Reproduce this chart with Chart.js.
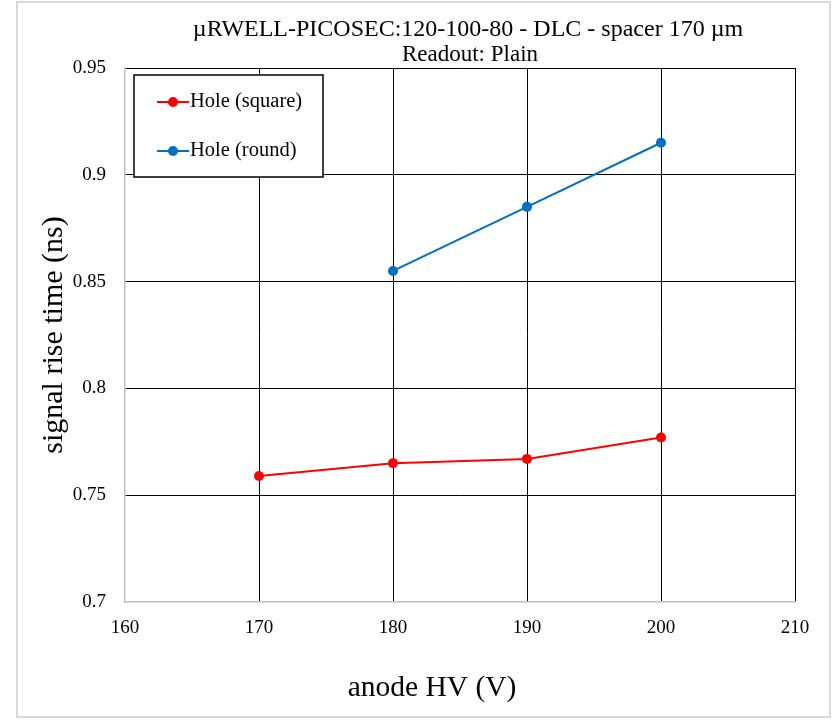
<!DOCTYPE html>
<html>
<head>
<meta charset="utf-8">
<script src="https://cdn.jsdelivr.net/npm/chart.js@4.4.1/dist/chart.umd.min.js"></script>
<style>
  html, body { margin: 0; padding: 0; background: #fff; }
  #wrap { width: 838px; height: 721px; position: relative; }
</style>
</head>
<body>
<div id="wrap"><canvas id="c" width="838" height="721"></canvas></div>
<script>
// ---- data ----
const titleLines = ["\u00b5RWELL-PICOSEC:120-100-80 - DLC - spacer 170 \u00b5m", "Readout: Plain"];
const xTitle = "anode HV (V)";
const yTitle = "signal rise time (ns)";
const squareHV = [170, 180, 190, 200];
const squareRise = [0.759, 0.765, 0.767, 0.777];
const roundHV = [180, 190, 200];
const roundRise = [0.855, 0.885, 0.915];
const seriesNames = ["Hole (square)", "Hole (round)"];
const xTickLabels = ["160", "170", "180", "190", "200", "210"];
const yTickLabels = ["0.7", "0.75", "0.8", "0.85", "0.9", "0.95"];

const FONT = "'Liberation Serif', 'Times New Roman', serif";

const toPts = (xs, ys) => xs.map((x, i) => ({x: x, y: ys[i]}));

const frame = {
  id: 'frame',
  beforeDraw(chart) {
    const ctx = chart.ctx;
    ctx.save();
    ctx.fillStyle = '#fff';
    ctx.fillRect(0, 0, chart.width, chart.height);
    ctx.strokeStyle = '#d9d9d9';
    ctx.lineWidth = 2;
    ctx.strokeRect(17, 2, 813, 715);
    ctx.restore();
  },
  afterDraw(chart) {
    const ctx = chart.ctx;
    ctx.save();
    // title
    ctx.fillStyle = '#000';
    ctx.textAlign = 'center';
    ctx.textBaseline = 'middle';
    ctx.font = "24px " + FONT;
    ctx.fillText(titleLines[0], 468, 30);
    ctx.font = "23px " + FONT;
    ctx.fillText(titleLines[1], 470, 55);
    // x axis title
    ctx.font = "29.5px " + FONT;
    ctx.fillText(xTitle, 432, 688);
    // legend
    const bx = 134, by = 75, bw = 189, bh = 102;
    ctx.fillStyle = '#fff';
    ctx.fillRect(bx, by, bw, bh);
    ctx.strokeStyle = '#000';
    ctx.lineWidth = 1.5;
    ctx.strokeRect(bx, by, bw, bh);
    const rows = [102, 151];
    chart.data.datasets.forEach((ds, i) => {
      const y = rows[i];
      ctx.strokeStyle = ds.borderColor;
      ctx.lineWidth = 2;
      ctx.beginPath();
      ctx.moveTo(157, y);
      ctx.lineTo(189, y);
      ctx.stroke();
      ctx.fillStyle = ds.pointBackgroundColor;
      ctx.beginPath();
      ctx.arc(173, y, 5, 0, Math.PI * 2);
      ctx.fill();
      ctx.fillStyle = '#000';
      ctx.textAlign = 'left';
      ctx.textBaseline = 'middle';
      ctx.font = "20.5px " + FONT;
      ctx.fillText(ds.label, 190, y);
    });
    ctx.restore();
  }
};

new Chart(document.getElementById('c'), {
  type: 'line',
  data: {
    datasets: [
      {
        label: seriesNames[0],
        data: toPts(squareHV, squareRise),
        borderColor: '#ff0000',
        backgroundColor: '#ff0000',
        pointBackgroundColor: '#ff0000',
        pointBorderColor: '#ff0000',
        borderWidth: 2,
        pointRadius: 5,
        pointBorderWidth: 0,
        tension: 0,
        fill: false
      },
      {
        label: seriesNames[1],
        data: toPts(roundHV, roundRise),
        borderColor: '#0070c0',
        backgroundColor: '#0070c0',
        pointBackgroundColor: '#0070c0',
        pointBorderColor: '#0070c0',
        borderWidth: 2,
        pointRadius: 5,
        pointBorderWidth: 0,
        tension: 0,
        fill: false
      }
    ]
  },
  options: {
    responsive: false,
    animation: false,
    devicePixelRatio: 1,
    layout: { padding: { top: 68, right: 43, left: 0, bottom: 0 } },
    plugins: { legend: { display: false }, title: { display: false }, tooltip: { enabled: false } },
    scales: {
      x: {
        type: 'linear',
        min: 160, max: 210,
        afterFit(s) { s.height = 119; },
        ticks: {
          stepSize: 10,
          padding: 15,
          color: '#000',
          font: { family: FONT, size: 19 },
          callback: (v) => xTickLabels.find(l => +l === v) ?? ''
        },
        grid: {
          drawTicks: false,
          color: (c) => c.index === 0 ? 'rgba(0,0,0,0)' : '#000',
          lineWidth: 1
        },
        border: { color: '#bfbfbf', width: 1.5 },
        title: { display: false, text: xTitle }
      },
      y: {
        type: 'linear',
        min: 0.7, max: 0.95,
        afterFit(s) { s.width = 125; },
        ticks: {
          stepSize: 0.05,
          padding: 19,
          color: '#000',
          font: { family: FONT, size: 19 },
          callback: (v) => yTickLabels.find(l => Math.abs(+l - v) < 1e-6) ?? ''
        },
        grid: {
          drawTicks: false,
          color: (c) => c.index === 0 ? 'rgba(0,0,0,0)' : '#000',
          lineWidth: 1
        },
        border: { color: '#bfbfbf', width: 1.5 },
        title: {
          display: true, text: yTitle, color: '#000',
          font: { family: FONT, size: 30 },
          padding: { top: 36, bottom: 0 }
        }
      }
    }
  },
  plugins: [frame]
});
</script>
</body>
</html>
